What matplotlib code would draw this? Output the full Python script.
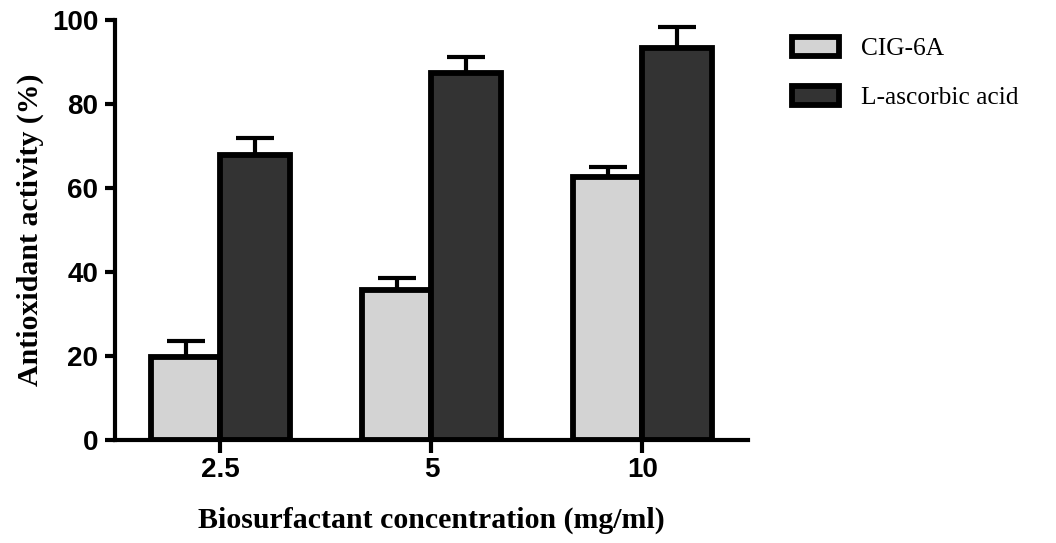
import matplotlib
matplotlib.use("Agg")
import matplotlib.pyplot as plt
import numpy as np
from matplotlib.patches import Patch

conc = ["2.5", "5", "10"]
cig = [19.8, 35.7, 62.7]
cig_err = [3.8, 2.9, 2.4]
asc = [67.9, 87.3, 93.3]
asc_err = [4.0, 4.0, 5.1]

fig = plt.figure(figsize=(10.56, 5.43), dpi=100)
ax = fig.add_axes([0.1089, 0.1897, 0.5994, 0.7735])

x = np.arange(len(conc))
w = 0.33
edge = 4.2

ax.errorbar(x - w / 2, cig, yerr=cig_err, fmt='none', ecolor='black',
            elinewidth=3, capsize=14, capthick=3, zorder=1)
ax.errorbar(x + w / 2, asc, yerr=asc_err, fmt='none', ecolor='black',
            elinewidth=3, capsize=14, capthick=3, zorder=1)
ax.bar(x - w / 2, cig, w, color='#d3d3d3', edgecolor='black', linewidth=edge, zorder=2)
ax.bar(x + w / 2, asc, w, color='#333333', edgecolor='black', linewidth=edge, zorder=2)

ax.set_xlim(-0.5, 2.5)
ax.set_ylim(0, 100)
ax.set_yticks([0, 20, 40, 60, 80, 100])
ax.set_xticks(x)
ax.set_xticklabels(conc)

for s in ['top', 'right']:
    ax.spines[s].set_visible(False)
for s in ['left', 'bottom']:
    ax.spines[s].set_linewidth(3)
ax.tick_params(axis='y', length=7, width=3, pad=5)
ax.tick_params(axis='x', length=9, width=3, pad=3)
for lab in ax.get_xticklabels() + ax.get_yticklabels():
    lab.set_fontfamily('Liberation Sans')
    lab.set_fontweight('bold')
    lab.set_fontsize(20)

ax.set_xlabel("Biosurfactant concentration (mg/ml)", family='Liberation Serif',
              fontweight='bold', fontsize=21.5, labelpad=17)
ax.set_ylabel("Antioxidant activity (%)", family='Liberation Serif',
              fontweight='bold', fontsize=21.5, labelpad=6)

handles = [Patch(facecolor='#d3d3d3', edgecolor='black', linewidth=edge, label='CIG-6A'),
           Patch(facecolor='#333333', edgecolor='black', linewidth=edge, label='L-ascorbic acid')]
fig.legend(handles=handles, loc='upper left', bbox_to_anchor=(0.738, 0.956),
           frameon=False, prop={'family': 'Liberation Serif', 'size': 18.3},
           borderpad=0, handlelength=1.85, handleheight=0.82, handletextpad=0.85,
           labelspacing=1.0)

fig.savefig("out.png", dpi=100)
